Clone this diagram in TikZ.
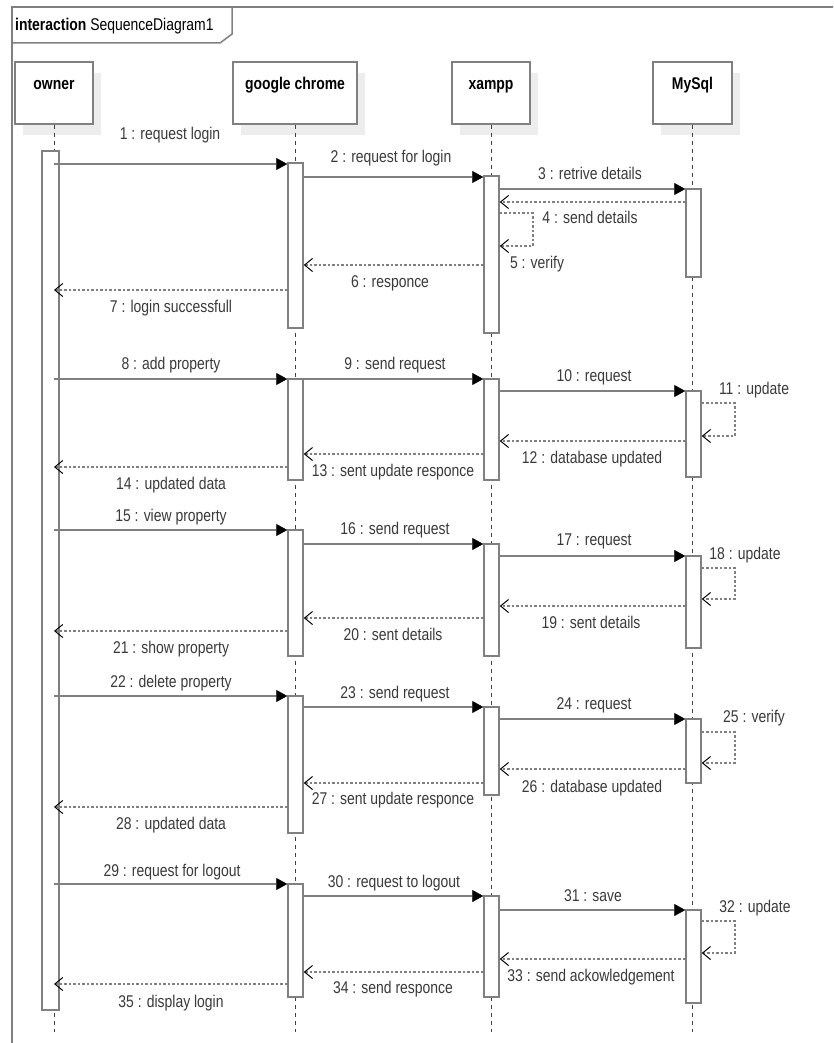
\documentclass[tikz,border=0pt]{standalone}
\usepackage{fontspec}
\setmainfont{Liberation Sans}[FakeStretch=0.82]
\usetikzlibrary{arrows.meta,fit,shadows}
\definecolor{lg}{HTML}{808080}
\definecolor{shad}{HTML}{EDEDED}
\definecolor{txt}{HTML}{3A3A3A}
\tikzset{
  head/.style={draw=lg, line width=1.5pt, fill=white, minimum height=62pt,
    inner xsep=2pt, inner ysep=4pt, text height=24pt, text depth=30pt,
    font=\bfseries\fontsize{17}{20}\selectfont,
    drop shadow={shadow xshift=8pt, shadow yshift=-11pt, fill=shad, opacity=1}},
  lifeline/.style={draw=black!75, line width=1pt, dash pattern=on 4pt off 4pt},
  actbox/.style={draw=lg, line width=1.5pt, fill=white, inner sep=0pt},
  callline/.style={draw=lg, line width=2pt,
    -{Triangle[length=11pt,width=12pt,black,line width=0.5pt]}},
  retline/.style={draw=lg, line width=2pt, dash pattern=on 2.5pt off 2pt,
    -{Straight Barb[length=8pt,width=13pt,black,line width=1pt]}},
  msglbl/.style={text=txt, inner sep=0pt, text height=12pt, text depth=0pt,
    font=\fontsize{17}{20}\selectfont},
  framebox/.style={draw=lg, line width=1.5pt}
}
\newcommand\callmsg[7]{%
  \draw[callline] (#1 |- 0,#3) -- (#2 |- 0,#3);
  \node[msglbl] (lab#6) at (#4,#5) {#6 : #7};}
\newcommand\retmsg[7]{%
  \draw[retline] (#1 |- 0,#3) -- (#2 |- 0,#3);
  \node[msglbl] (lab#6) at (#4,#5) {#6 : #7};}
\newcommand\selfmsg[7]{%
  \draw[retline] (#1.east |- 0,#2) -- ++(33,0) |- (#1.east |- 0,#3);
  \node[msglbl] (lab#6) at (#4,#5) {#6 : #7};}
\begin{document}
\begin{tikzpicture}[x=1pt, y=-1pt]
\useasboundingbox (0,0) rectangle (833,1043);
\clip (0,0) rectangle (833,1043);
\fill[white] (0,0) rectangle (833,1043);

% frame and tab
\draw[framebox] (12,7) rectangle (900,1100);
\draw[framebox] (12,43) -- (220,43) -- (232,34) -- (232,7);
\node[anchor=west, inner sep=0pt, text height=12pt, text depth=0pt,
  font=\fontsize{17}{20}\selectfont] (title) at (15,25)
  {\textbf{interaction} SequenceDiagram1};

% lifeline heads
\node[head, minimum width=78pt] (owner) at (54,93) {owner};
\node[head, minimum width=124pt] (chrome) at (295,93) {google chrome};
\node[head, minimum width=78pt] (xampp) at (491,93) {xampp};
\node[head, minimum width=79pt] (mysql) at (692.5,93) {MySql};

% lifelines
\draw[lifeline] (owner.south) -- (owner.south |- 0,1032);
\draw[lifeline] (chrome.south) -- (chrome.south |- 0,1032);
\draw[lifeline] (xampp.south) -- (xampp.south |- 0,1032);
\draw[lifeline] (mysql.south) -- (mysql.south |- 0,1032);

% activations
\node[actbox, fit={(42,151) (59,1010)}] (oa) {};
\node[actbox, fit={(288,163) (303,328)}] (c1) {};
\node[actbox, fit={(484,176) (499,333)}] (x1) {};
\node[actbox, fit={(686,189) (701,277)}] (m1) {};
\node[actbox, fit={(288,379) (303,480)}] (c2) {};
\node[actbox, fit={(484,379) (499,480)}] (x2) {};
\node[actbox, fit={(686,391) (701,477)}] (m2) {};
\node[actbox, fit={(288,530) (303,656)}] (c3) {};
\node[actbox, fit={(484,544) (499,656)}] (x3) {};
\node[actbox, fit={(686,556) (701,648)}] (m3) {};
\node[actbox, fit={(288,696) (303,833)}] (c4) {};
\node[actbox, fit={(484,707) (499,795)}] (x4) {};
\node[actbox, fit={(686,719) (701,783)}] (m4) {};
\node[actbox, fit={(288,884) (303,997)}] (c5) {};
\node[actbox, fit={(484,896) (499,997)}] (x5) {};
\node[actbox, fit={(686,910) (701,1003)}] (m5) {};

% block 1
\callmsg{owner}{c1.west}{164}{170}{134}{1}{request login}
\callmsg{c1.east}{x1.west}{177}{391}{157}{2}{request for login}
\callmsg{x1.east}{m1.west}{189}{590}{173}{3}{retrive details}
\retmsg{m1.west}{x1.east}{202}{590}{217}{4}{send details}
\selfmsg{x1}{213}{246}{537}{262}{5}{verify}
\retmsg{x1.west}{c1.east}{265}{390}{281}{6}{responce}
\retmsg{c1.west}{owner}{290}{171}{306}{7}{login successfull}

% block 2
\callmsg{owner}{c2.west}{379}{171}{363}{8}{add property}
\callmsg{c2.east}{x2.west}{379}{395}{363}{9}{send request}
\callmsg{x2.east}{m2.west}{391}{594}{375}{10}{request}
\selfmsg{m2}{403}{436}{754}{388}{11}{update}
\retmsg{m2.west}{x2.east}{441}{592}{457}{12}{database updated}
\retmsg{x2.west}{c2.east}{454}{393}{470}{13}{sent update responce}
\retmsg{c2.west}{owner}{467}{171}{483}{14}{updated data}

% block 3
\callmsg{owner}{c3.west}{530}{171}{515}{15}{view property}
\callmsg{c3.east}{x3.west}{544}{395}{528}{16}{send request}
\callmsg{x3.east}{m3.west}{556}{594}{539}{17}{request}
\selfmsg{m3}{568}{599}{745}{553}{18}{update}
\retmsg{m3.west}{x3.east}{606}{591}{622}{19}{sent details}
\retmsg{x3.west}{c3.east}{618}{393}{634}{20}{sent details}
\retmsg{c3.west}{owner}{631}{171}{647}{21}{show property}

% block 4
\callmsg{owner}{c4.west}{696}{171}{681}{22}{delete property}
\callmsg{c4.east}{x4.west}{707}{395}{692}{23}{send request}
\callmsg{x4.east}{m4.west}{719}{594}{703}{24}{request}
\selfmsg{m4}{732}{763}{754}{716}{25}{verify}
\retmsg{m4.west}{x4.east}{769}{592}{786}{26}{database updated}
\retmsg{x4.west}{c4.east}{783}{393}{798}{27}{sent update responce}
\retmsg{c4.west}{owner}{807}{171}{823}{28}{updated data}

% block 5
\callmsg{owner}{c5.west}{884}{172}{870}{29}{request for logout}
\callmsg{c5.east}{x5.west}{896}{394}{881}{30}{request to logout}
\callmsg{x5.east}{m5.west}{910}{593}{895}{31}{save}
\selfmsg{m5}{921}{953}{755}{906}{32}{update}
\retmsg{m5.west}{x5.east}{959}{591}{975}{33}{send ackowledgement}
\retmsg{x5.west}{c5.east}{972}{393}{987}{34}{send responce}
\retmsg{c5.west}{owner}{984}{171}{1001}{35}{display login}
\end{tikzpicture}
\end{document}
